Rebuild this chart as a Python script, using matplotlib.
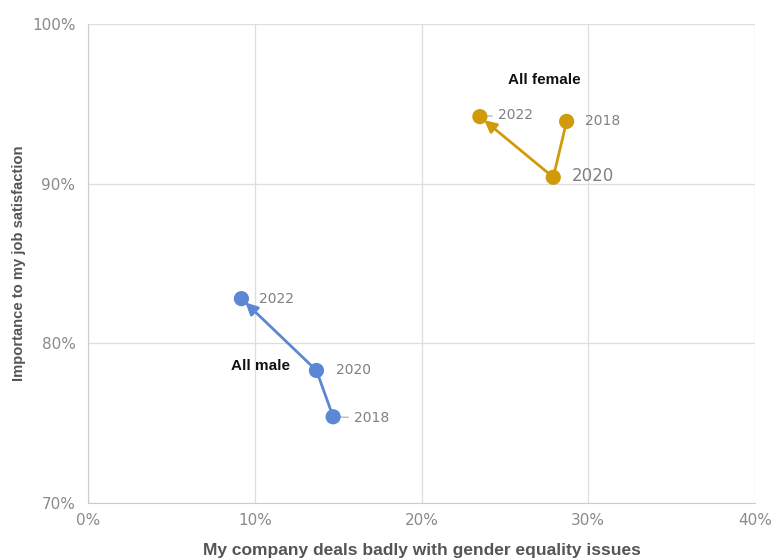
import matplotlib
matplotlib.use("Agg")
import matplotlib.pyplot as plt
from matplotlib.ticker import FuncFormatter

years = ["2018", "2020", "2022"]
female_x = [28.7, 27.9, 23.5]
female_y = [93.9, 90.4, 94.2]
male_x = [14.7, 13.7, 9.2]
male_y = [75.4, 78.3, 82.8]

x_ticks = [0, 10, 20, 30, 40]
y_ticks = [70, 80, 90, 100]

female_color = "#D09A0A"
male_color = "#5B87D4"
tick_color = "#8a8a8a"

plt.rcParams["font.family"] = ["Liberation Sans", "DejaVu Sans"]

fig = plt.figure(figsize=(7.76, 5.6), dpi=100)
ax = fig.add_axes([0.1134, 0.1018, 0.8596, 0.8553])
ax.set_xlim(0, 40)
ax.set_ylim(70, 100)
ax.set_xticks(x_ticks)
ax.set_yticks(y_ticks)
ax.xaxis.set_major_formatter(FuncFormatter(lambda v, _: f"{v:.0f}%"))
ax.yaxis.set_major_formatter(FuncFormatter(lambda v, _: f"{v:.0f}%"))
ax.grid(True, color="#dedede", linewidth=0.9)
ax.set_axisbelow(True)
for s in ["top", "right"]:
    ax.spines[s].set_visible(False)
for s in ["left", "bottom"]:
    ax.spines[s].set_color("#cccccc")
ax.tick_params(length=0, colors=tick_color, labelsize=11)
ax.tick_params(axis="y", pad=9)
ax.tick_params(axis="x", pad=7)
for t in ax.get_xticklabels() + ax.get_yticklabels():
    t.set_fontfamily("DejaVu Sans")


def draw_series(xs, ys, color):
    ax.plot(xs[:2], ys[:2], color=color, linewidth=2, zorder=3)
    ax.annotate("", xy=(xs[2], ys[2]), xytext=(xs[1], ys[1]),
                arrowprops=dict(arrowstyle="-|>", color=color, lw=2,
                                mutation_scale=18, shrinkA=0, shrinkB=4),
                zorder=3)
    ax.scatter(xs, ys, s=120, color=color, zorder=4, edgecolors="none")


draw_series(female_x, female_y, female_color)
draw_series(male_x, male_y, male_color)

# year labels
lab = dict(color="#808080", va="center", ha="left", family="DejaVu Sans")
lead = dict(arrowstyle="-", color="#aaaaaa", lw=0.8, shrinkA=2, shrinkB=4)
ax.annotate(years[2], xy=(female_x[2], female_y[2]), xytext=(13, 1.5),
            textcoords="offset points", fontsize=10, arrowprops=lead, **lab)
ax.annotate(years[0], xy=(female_x[0], female_y[0]), xytext=(13, 0),
            textcoords="offset points", fontsize=10, **lab)
ax.annotate(years[1], xy=(female_x[1], female_y[1]), xytext=(13, 1),
            textcoords="offset points", fontsize=12, **lab)
ax.annotate(years[2], xy=(male_x[2], male_y[2]), xytext=(13, 0),
            textcoords="offset points", fontsize=10, **lab)
ax.annotate(years[1], xy=(male_x[1], male_y[1]), xytext=(14, 0),
            textcoords="offset points", fontsize=10, **lab)
ax.annotate(years[0], xy=(male_x[0], male_y[0]), xytext=(15, -1),
            textcoords="offset points", fontsize=10, arrowprops=lead, **lab)

ax.text(25.2, 96.5, "All female", fontsize=11, fontweight="bold",
        color="#111111", ha="left", va="center")
ax.text(8.6, 78.6, "All male", fontsize=11, fontweight="bold",
        color="#111111", ha="left", va="center")

ax.set_xlabel("My company deals badly with gender equality issues",
              fontsize=12.5, fontweight="bold", color="#555555", labelpad=11)
ax.set_ylabel("Importance to my job satisfaction",
              fontsize=10.6, fontweight="bold", color="#555555", labelpad=4)

fig.savefig("out.png", dpi=100)
